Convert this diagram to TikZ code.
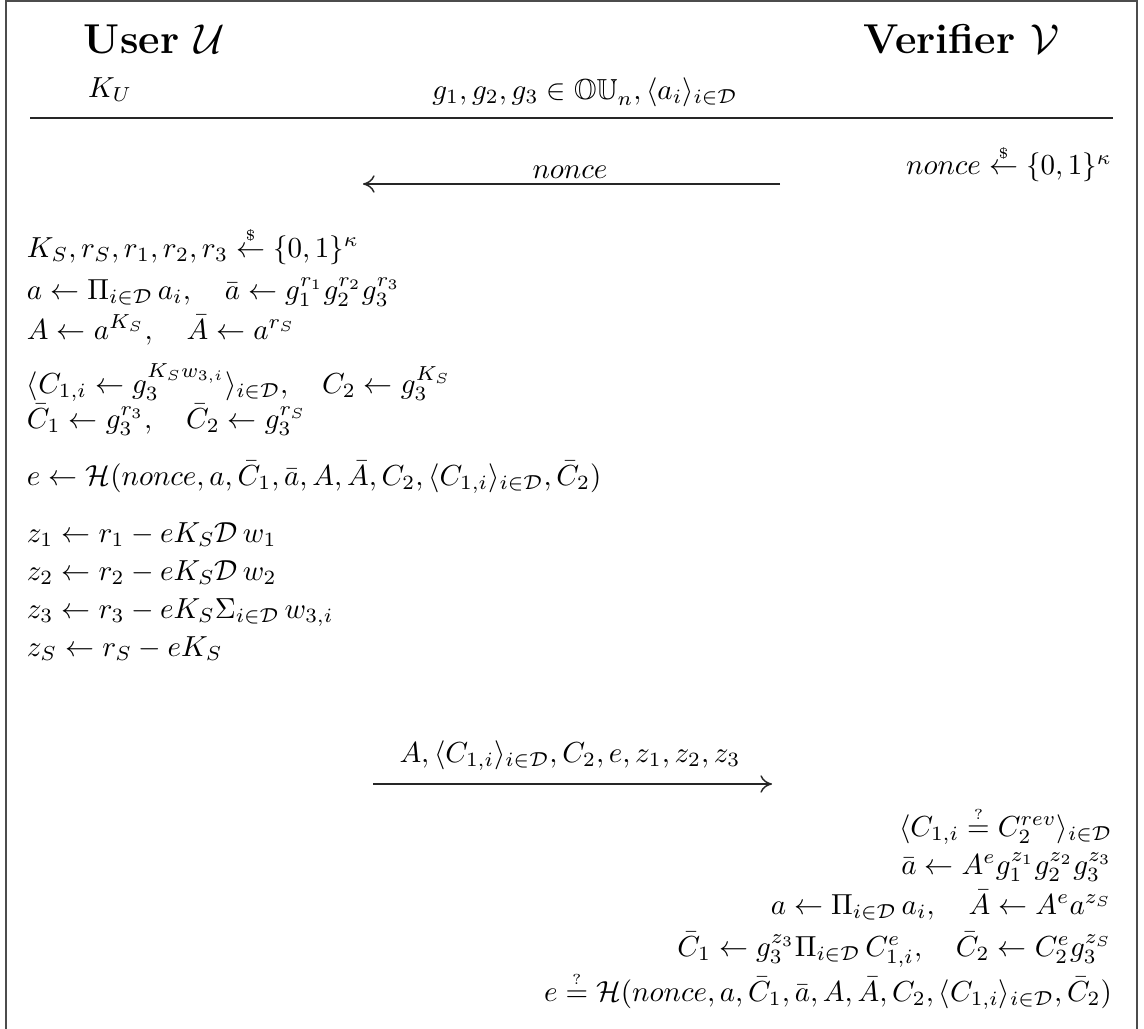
\documentclass[tikz,border=0pt]{standalone}
\usepackage{amsmath,amssymb}
\usetikzlibrary{arrows.meta}
\newcommand{\rnd}{\mathrel{\overset{\scriptscriptstyle\$}{\leftarrow}}}
\newcommand{\qeq}{\mathrel{\overset{\scriptscriptstyle ?}{=}}}
\newcommand{\tsp}{\mskip3mu}
\begin{document}
\begin{tikzpicture}[x=0.345pt,y=-0.345pt,
  lbl/.style={inner sep=0pt,outer sep=0pt},
  leftln/.style={lbl,anchor=base west},
  rightln/.style={lbl,anchor=base east},
  msg/.style={draw=black!85,line width=0.5pt,-{To[length=4pt,width=6pt]}},
  frame/.style={draw=black!70,line width=0.8pt},
  rule/.style={draw=black!85,line width=0.6pt}]
\useasboundingbox (0,0) rectangle (1144,1029);
\draw[frame] (6,1029) -- (6,1) -- (1137,1) -- (1137,1029);
% header
\node[leftln,font=\Large\bfseries] (user) at (84,53) {User $\mathcal{U}$};
\node[rightln,font=\Large\bfseries] (ver) at (1060,53) {Verifier $\mathcal{V}$};
\node[leftln] (ku) at (88,97) {$K_U$};
\node[lbl,anchor=base] (pub) at (585,99) {$g_1,g_2,g_3\in\mathbb{OU}_n,\langle a_i\rangle_{i\in\mathcal{D}}$};
\coordinate (hl) at (30,118);
\coordinate (hr) at (1113,118);
\draw[rule] (hl) -- (hr);
% nonce
\node[rightln] (vn) at (1112,175) {$nonce\rnd\{0,1\}^\kappa$};
\coordinate (m1s) at (780,184);
\coordinate (m1e) at (363,184);
\draw[msg] (m1s) -- (m1e);
\node[lbl,anchor=base] (m1l) at (570,178) {$nonce$};
% user computations
\node[leftln] (u1) at (27,257) {$K_S,r_S,r_1,r_2,r_3\rnd\{0,1\}^\kappa$};
\node[leftln] (u2) at (27,299) {$a\leftarrow\Pi_{i\in\mathcal{D}}\tsp a_i,\quad \bar{a}\leftarrow g_1^{r_1}g_2^{r_2}g_3^{r_3}$};
\node[leftln] (u3) at (27,339) {$A\leftarrow a^{K_S},\quad \bar{A}\leftarrow a^{r_S}$};
\node[leftln] (u4) at (27,393) {$\langle C_{1,i}\leftarrow g_3^{K_Sw_{3,i}}\rangle_{i\in\mathcal{D}},\quad C_2\leftarrow g_3^{K_S}$};
\node[leftln] (u5) at (27,428) {$\bar{C}_1\leftarrow g_3^{r_3},\quad \bar{C}_2\leftarrow g_3^{r_S}$};
\node[leftln] (u6) at (27,485) {$e\leftarrow\mathcal{H}(nonce,a,\bar{C}_1,\bar{a},A,\bar{A},C_2,\langle C_{1,i}\rangle_{i\in\mathcal{D}},\bar{C}_2)$};
\node[leftln] (u7) at (27,542) {$z_1\leftarrow r_1-eK_S\mathcal{D}\tsp w_1$};
\node[leftln] (u8) at (27,580) {$z_2\leftarrow r_2-eK_S\mathcal{D}\tsp w_2$};
\node[leftln] (u9) at (27,618) {$z_3\leftarrow r_3-eK_S\Sigma_{i\in\mathcal{D}}\tsp w_{3,i}$};
\node[leftln] (u10) at (27,656) {$z_S\leftarrow r_S-eK_S$};
% second message
\coordinate (m2s) at (373,784);
\coordinate (m2e) at (772,784);
\draw[msg] (m2s) -- (m2e);
\node[lbl,anchor=base] (m2l) at (570,762) {$A,\langle C_{1,i}\rangle_{i\in\mathcal{D}},C_2,e,z_1,z_2,z_3$};
% verifier computations
\node[rightln] (v1) at (1112,836) {$\langle C_{1,i}\qeq C_2^{rev}\rangle_{i\in\mathcal{D}}$};
\node[rightln] (v2) at (1112,874) {$\bar{a}\leftarrow A^eg_1^{z_1}g_2^{z_2}g_3^{z_3}$};
\node[rightln] (v3) at (1112,914) {$a\leftarrow\Pi_{i\in\mathcal{D}}\tsp a_i,\quad \bar{A}\leftarrow A^ea^{z_S}$};
\node[rightln] (v4) at (1112,956) {$\bar{C}_1\leftarrow g_3^{z_3}\Pi_{i\in\mathcal{D}}\tsp C_{1,i}^e,\quad \bar{C}_2\leftarrow C_2^eg_3^{z_S}$};
\node[rightln] (v5) at (1112,1001) {$e\qeq\mathcal{H}(nonce,a,\bar{C}_1,\bar{a},A,\bar{A},C_2,\langle C_{1,i}\rangle_{i\in\mathcal{D}},\bar{C}_2)$};
\end{tikzpicture}
\end{document}
